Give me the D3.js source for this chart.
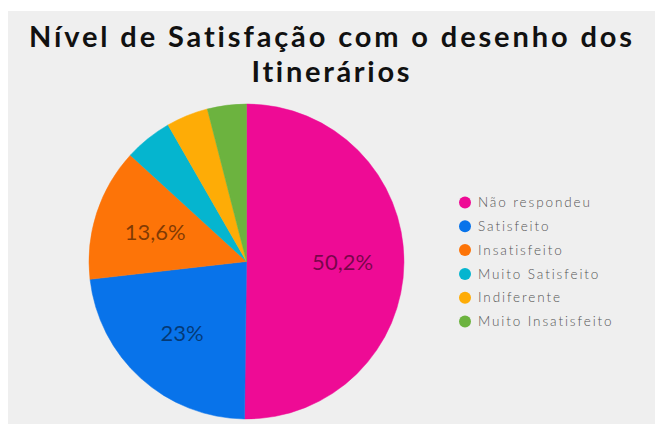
<!DOCTYPE html>
<html>
<head>
<meta charset="utf-8">
<script src="https://cdn.jsdelivr.net/npm/d3@7"></script>
<style>
  html, body { margin: 0; padding: 0; background: #ffffff; }
  svg { display: block; }
  text { font-variant-ligatures: none; }
</style>
</head>
<body>
<svg id="chart" width="655" height="424"></svg>
<script>
// Survey answers: satisfaction with the itinerary design
const categories = ["Não respondeu", "Satisfeito", "Insatisfeito", "Muito Satisfeito", "Indiferente", "Muito Insatisfeito"];
const values = [50.2, 23, 13.6, 4.9, 4.3, 4.0];
const valueLabels = ["50,2%", "23%", "13,6%", "", "", ""];
const colors = ["#ee0b95", "#0873ea", "#fd7408", "#05b5cf", "#feac06", "#6cb33f"];
const titleLines = ["Nível de Satisfação com o desenho dos", "Itinerários"];
const titleWidths = [603, 158];

const svg = d3.select("#chart");
const W = 655, H = 424;

// panel
svg.append("rect")
  .attr("x", 8).attr("y", 11)
  .attr("width", W - 8).attr("height", H - 11)
  .attr("fill", "#efefef");

// title (two lines in one text element)
svg.append("text")
  .attr("text-anchor", "middle")
  .attr("font-family", "Lato, sans-serif")
  .attr("font-weight", 700)
  .attr("font-size", 29)
  .attr("fill", "#111")
  .selectAll("tspan")
  .data(titleLines)
  .join("tspan")
  .attr("x", 330.5)
  .attr("y", (d, i) => 47 + i * 35)
  .attr("textLength", (d, i) => titleWidths[i])
  .attr("lengthAdjust", "spacing")
  .text(d => d);

// pie
const cx = 246.5, cy = 261.5, R = 157.5;
const data = categories.map((c, i) => ({ name: c, value: values[i], label: valueLabels[i], color: colors[i] }));
const pie = d3.pie().value(d => d.value).sort(null);
const arcs = pie(data);
const arc = d3.arc().innerRadius(0).outerRadius(R);
const labelArc = d3.arc().innerRadius(R * 0.61).outerRadius(R * 0.61);

const g = svg.append("g").attr("transform", `translate(${cx},${cy})`);
g.selectAll("path")
  .data(arcs)
  .join("path")
  .attr("d", arc)
  .attr("fill", d => d.data.color)
  .attr("stroke", d => d.data.color)
  .attr("stroke-width", 0.5);

g.selectAll("text")
  .data(arcs.filter(d => d.data.label))
  .join("text")
  .attr("transform", d => `translate(${labelArc.centroid(d)})`)
  .attr("text-anchor", "middle")
  .attr("dy", "0.36em")
  .attr("font-family", "Lato, sans-serif")
  .attr("font-weight", 400)
  .attr("font-size", 22)
  .attr("fill", "#000")
  .attr("fill-opacity", 0.5)
  .text(d => d.data.label);

// legend
const legend = svg.append("g").attr("transform", "translate(465,202.5)");
const rows = legend.selectAll("g")
  .data(data)
  .join("g")
  .attr("transform", (d, i) => `translate(0,${i * 23.8})`);
rows.append("circle")
  .attr("r", 6)
  .attr("fill", d => d.color);
rows.append("text")
  .attr("x", 13)
  .attr("dy", "0.35em")
  .attr("font-family", "Lato, sans-serif")
  .attr("font-weight", 300)
  .attr("font-size", 13.5)
  .attr("letter-spacing", 1.9)
  .attr("fill", "#555")
  .text(d => d.name);
</script>
</body>
</html>
